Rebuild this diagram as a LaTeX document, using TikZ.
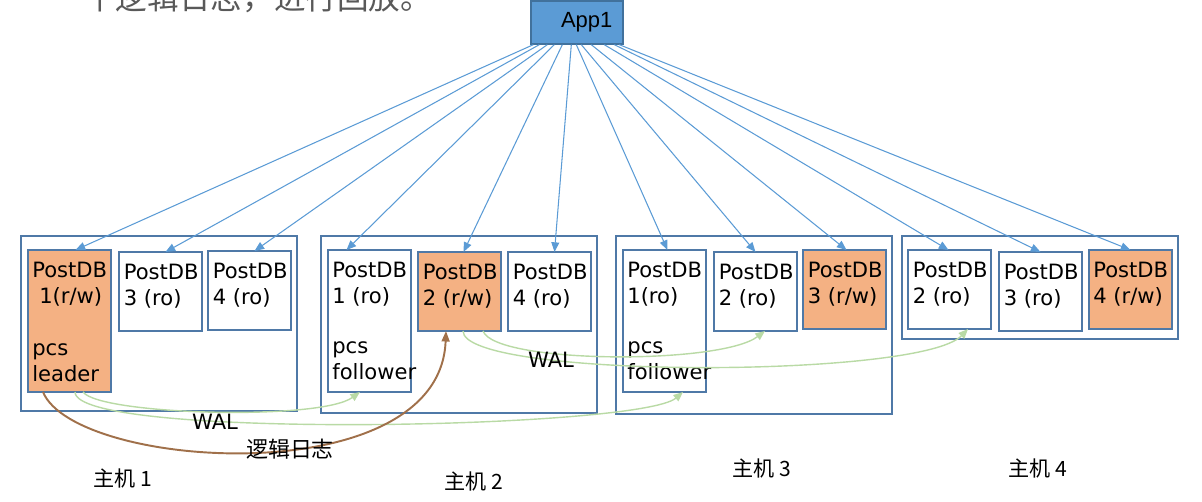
\documentclass[tikz,border=0pt]{standalone}
\usepackage{fontspec}
\setmainfont{DejaVu Sans}
\newfontfamily\cjk{Noto Sans CJK SC}
\newfontfamily\appfont{Liberation Sans}
\usetikzlibrary{arrows.meta,positioning}
\definecolor{dbline}{HTML}{4F79A7}
\definecolor{rwfill}{HTML}{F4B183}
\definecolor{appfill}{HTML}{5B9BD5}
\definecolor{appline}{HTML}{41719C}
\definecolor{walgreen}{HTML}{B9DAA5}
\definecolor{logbrown}{HTML}{A0704A}
\definecolor{topgrey}{HTML}{595959}
\begin{document}
\begin{tikzpicture}[x=0.02cm,y=-0.02cm,
    host/.style={draw=dbline,line width=1.1pt},
    db/.style={draw=dbline,line width=1.1pt,fill=white,anchor=north west,inner sep=0pt,outer sep=0pt,minimum width=1.66cm,minimum height=1.58cm},
    tall/.style={minimum height=2.84cm},
    rw/.style={fill=rwfill},
    dbtxt/.style={anchor=north west,inner sep=0pt,align=left,font=\fontsize{12}{14.75}\selectfont},
    call/.style={draw=appfill,line width=0.6pt,-{Triangle[length=5.5pt,width=4.5pt]}},
    wal/.style={draw=walgreen,line width=0.8pt,-{Triangle[length=5.5pt,width=4.5pt]}},
    logline/.style={draw=logbrown,line width=1.1pt,-{Triangle[length=6pt,width=4.5pt]}},
    lbl/.style={inner sep=0pt,font=\fontsize{12}{14}\selectfont},
    hostlbl/.style={inner sep=0pt,font=\cjk\fontsize{12}{14}\selectfont}]
  \clip[use as bounding box] (0,0) rectangle (1202,502);

  \node[anchor=base west,inner sep=0pt,text=topgrey,font=\cjk\fontsize{18}{20}\selectfont] (topline) at (84,10) {个逻辑日志，进行回放。};

  \draw[host] (21,236) rectangle (297,411);
  \draw[host] (321,236) rectangle (597,413);
  \draw[host] (616,236) rectangle (892,414);
  \draw[host] (902,236) rectangle (1178,339);

  \node[draw=appline,line width=0.8pt,fill=appfill,minimum width=1.84cm,minimum height=0.86cm,inner sep=0pt,font=\appfont\fontsize{12.5}{15}\selectfont] (app) at (577,22.5) {\hspace*{11pt}App1};

  \node[db,tall,rw] (h1a) at (28,250) {};
  \node[db] (h1b) at (119,252) {};
  \node[db] (h1c) at (208,251) {};
  \node[db,tall] (h2a) at (328,250) {};
  \node[db,rw] (h2b) at (418,252) {};
  \node[db] (h2c) at (508,252) {};
  \node[db,tall] (h3a) at (623,250) {};
  \node[db] (h3b) at (714,252) {};
  \node[db,rw] (h3c) at (803,250) {};
  \node[db] (h4a) at (908,250) {};
  \node[db] (h4b) at (999,252) {};
  \node[db,rw] (h4c) at (1089,250) {};

  \node[dbtxt,below right=0.24cm and 0.08cm of h1a.north west] (h1at) {PostDB\\\hspace*{0.33em}1(r/w)\\[15pt]pcs\\leader};
  \node[dbtxt,below right=0.24cm and 0.09cm of h1b.north west] (h1bt) {PostDB\\3 (ro)};
  \node[dbtxt,below right=0.24cm and 0.09cm of h1c.north west] (h1ct) {PostDB\\4 (ro)};
  \node[dbtxt,below right=0.24cm and 0.08cm of h2a.north west] (h2at) {PostDB\\1 (ro)\\[13.6pt]pcs\\follower};
  \node[dbtxt,below right=0.24cm and 0.09cm of h2b.north west] (h2bt) {PostDB\\2 (r/w)};
  \node[dbtxt,below right=0.24cm and 0.09cm of h2c.north west] (h2ct) {PostDB\\4 (ro)};
  \node[dbtxt,below right=0.24cm and 0.08cm of h3a.north west] (h3at) {PostDB\\1(ro)\\[13.6pt]pcs\\follower};
  \node[dbtxt,below right=0.24cm and 0.09cm of h3b.north west] (h3bt) {PostDB\\2 (ro)};
  \node[dbtxt,below right=0.24cm and 0.09cm of h3c.north west] (h3ct) {PostDB\\3 (r/w)};
  \node[dbtxt,below right=0.24cm and 0.09cm of h4a.north west] (h4at) {PostDB\\2 (ro)};
  \node[dbtxt,below right=0.24cm and 0.09cm of h4b.north west] (h4bt) {PostDB\\3 (ro)};
  \node[dbtxt,below right=0.24cm and 0.08cm of h4c.north west] (h4ct) {PostDB\\4 (r/w)};

  \foreach \dbn/\sx/\ex in {h1a/3/6,h1b/9/5,h1c/17/5,h2a/24/-23,h2b/32/4,h2c/41/5,h3a/46/3,h3b/51/0,h3c/61/2,h4a/74/-1,h4b/84/0,h4c/89/0}
    \draw[call] ([shift={(\sx,0)}]app.south west) -- ([shift={(\ex,0)}]\dbn.north);

  \draw[wal] ([shift={(13.5,0)}]h1a.south) .. controls +(17,23) and +(-40,29) .. ([shift={(-9.5,0)}]h2a.south);
  \draw[wal] ([shift={(5.5,0)}]h1a.south) .. controls +(0,48) and +(-43,37) .. ([shift={(18.5,0)}]h3a.south);
  \draw[wal] ([shift={(3.5,0)}]h2b.south) .. controls +(0,48) and +(-48,50) .. ([shift={(18.5,0)}]h4a.south);
  \draw[wal] ([shift={(23.5,0)}]h2b.south) .. controls +(12,33) and +(-45,34) .. ([shift={(9.5,0)}]h3b.south);
  \draw[logline] ([shift={(-26.5,0)}]h1a.south) .. controls +(32,78) and +(-6,163) .. ([shift={(-13.5,0)}]h2b.south);

  \node[lbl] (wal1) at (215,422) {WAL};
  \node[lbl] (wal2) at (551,360) {WAL};
  \node[inner sep=0pt,font=\cjk\fontsize{12.5}{15}\selectfont] (logtxt) at (290,449) {逻辑日志};

  \node[hostlbl] (h1lbl) at (123,478) {主机 1};
  \node[hostlbl] (h2lbl) at (474,481) {主机 2};
  \node[hostlbl] (h3lbl) at (762,468) {主机 3};
  \node[hostlbl] (h4lbl) at (1038,468) {主机 4};
\end{tikzpicture}
\end{document}
